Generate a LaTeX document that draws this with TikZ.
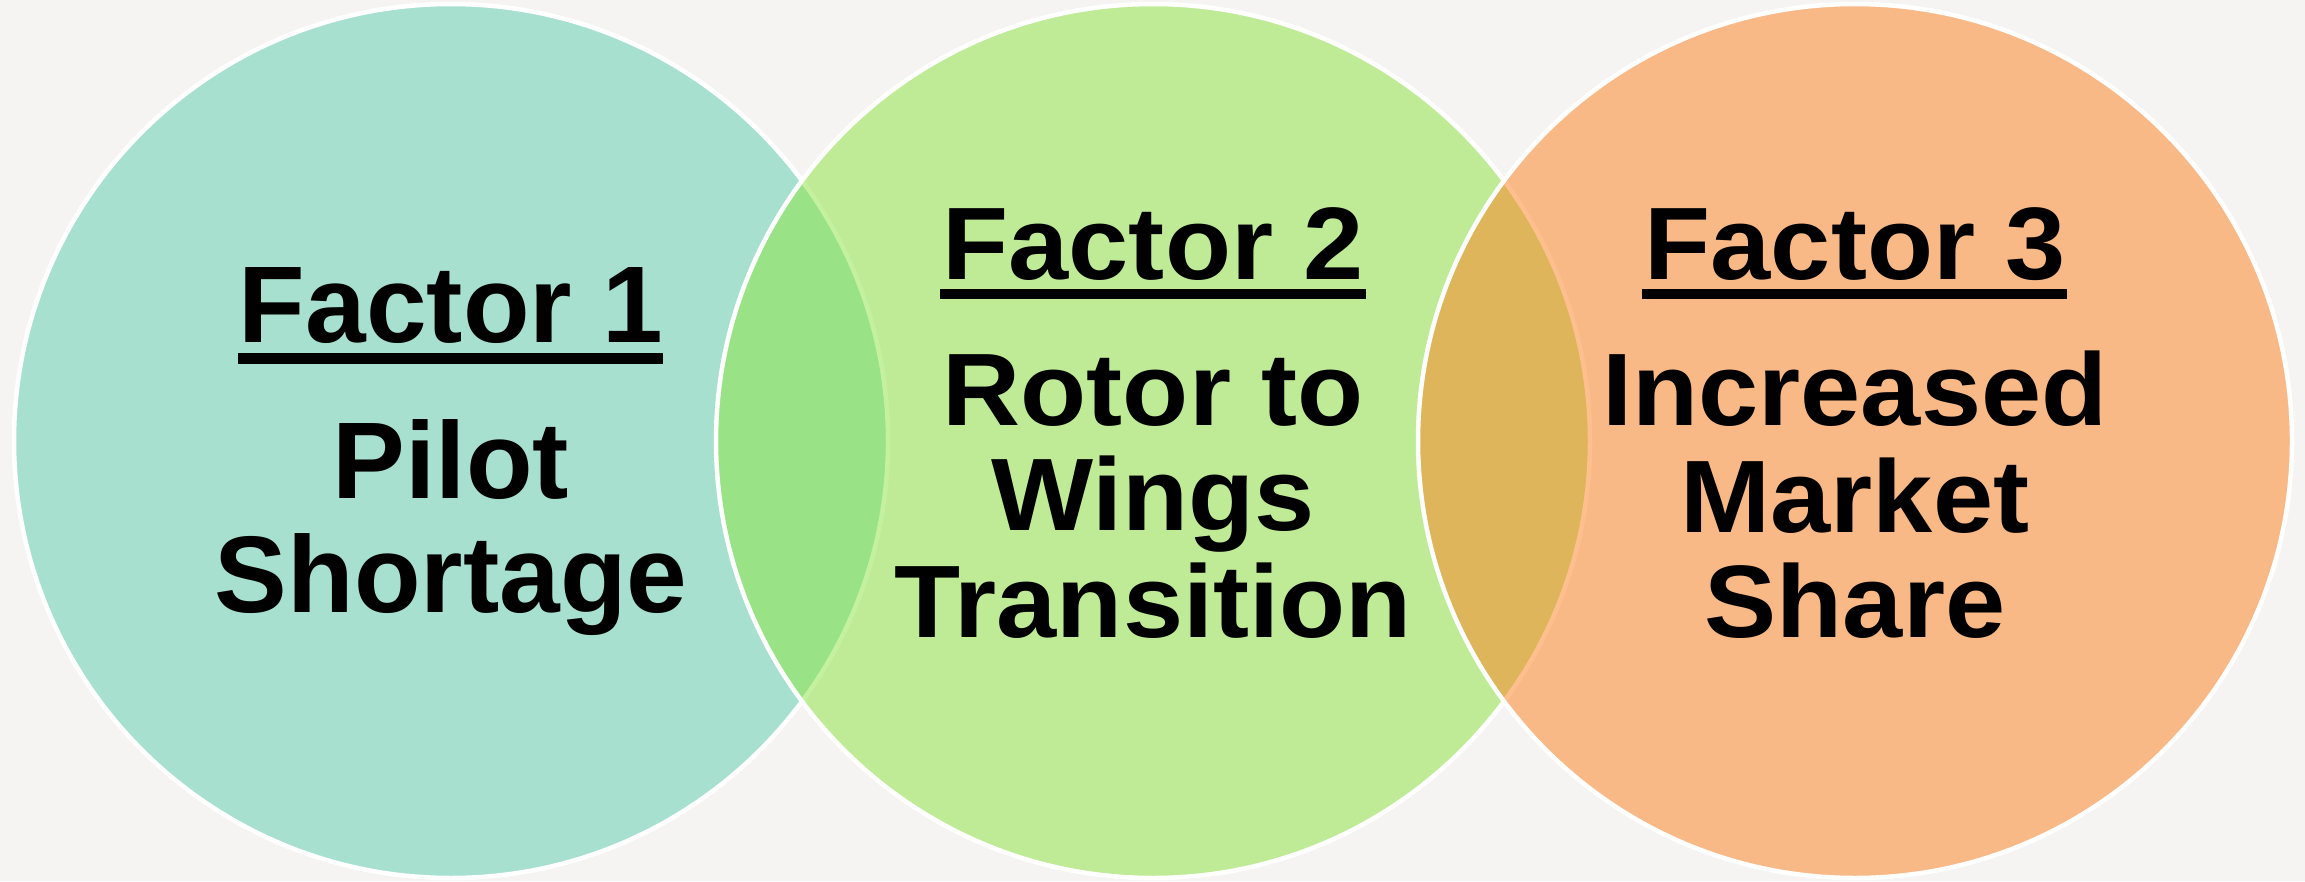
\documentclass[tikz,border=0pt]{standalone}
\usepackage{fontspec}
\setmainfont{Liberation Sans}
\usepackage{graphicx}
\definecolor{bgc}{RGB}{245,244,242}
\definecolor{teal1}{RGB}{168,224,208}
\definecolor{green2}{RGB}{139,228,62}
\definecolor{orange3}{RGB}{253,128,30}
\newcommand{\hstretch}[1]{\scalebox{1.05}[1]{#1}}
\tikzset{
  venn/.style={draw=white, line width=4.5pt},
  bigA/.style={font=\fontsize{109}{114}\selectfont\bfseries, inner sep=0pt, anchor=base},
  bigB/.style={font=\fontsize{103}{106}\selectfont\bfseries, inner sep=0pt, anchor=base},
  uline/.style={draw=black, line width=10.5pt}
}
\begin{document}
\begin{tikzpicture}[x=1pt, y=-1pt]
\fill[bgc] (0,0) rectangle (2305,881);
\useasboundingbox (0,0) rectangle (2305,881);
% circles
\path[venn, fill=teal1] (451,441) circle [radius=437];
\path[venn, fill=green2, fill opacity=0.5] (1153,441) circle [radius=437];
\path[venn, fill=orange3, fill opacity=0.5] (1855,441) circle [radius=437];
% left texts
\node[bigA] (f1) at (451,342) {Factor 1};
\node[bigA] (p1) at (451,498) {Pilot};
\node[bigA] (s1) at (451,612) {Shortage};
\draw[uline] (238,358.5) -- (663,358.5);
% middle texts
\node[bigB] (f2) at (1153,279) {\hstretch{Factor 2}};
\node[bigB] (r2) at (1153,425) {\hstretch{Rotor to}};
\node[bigB] (w2) at (1153,530) {\hstretch{Wings}};
\node[bigB] (t2) at (1153,637) {\hstretch{Transition}};
\draw[uline] (940,294) -- (1366,294);
% right texts
\node[bigB] (f3) at (1855,279) {\hstretch{Factor 3}};
\node[bigB] (i3) at (1855,425) {\hstretch{Increased}};
\node[bigB] (m3) at (1855,532) {\hstretch{Market}};
\node[bigB] (s3) at (1855,637) {\hstretch{Share}};
\draw[uline] (1642,294) -- (2067,294);
\end{tikzpicture}
\end{document}
